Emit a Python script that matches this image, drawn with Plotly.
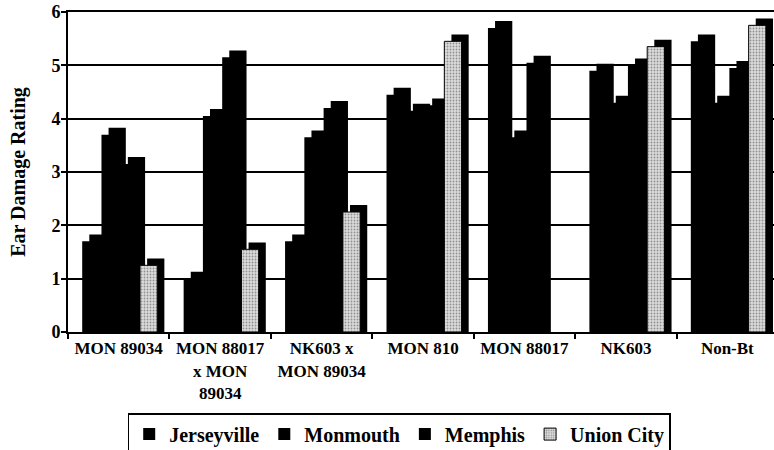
import plotly.graph_objects as go

categories = ["MON 89034", "MON 88017<br>x MON<br>89034", "NK603 x<br>MON 89034",
              "MON 810", "MON 88017", "NK603", "Non-Bt"]
jerseyville = [1.7, 1.0, 1.7, 4.45, 5.7, 4.9, 5.45]
monmouth = [3.7, 4.05, 3.65, 4.15, 3.65, 4.3, 4.3]
memphis = [3.15, 5.15, 4.2, 4.25, 5.05, 5.0, 4.95]
union_city = [1.25, 1.55, 2.25, 5.45, None, 5.35, 5.75]

series = [("Jerseyville", jerseyville), ("Monmouth", monmouth),
          ("Memphis", memphis), ("Union City", union_city)]

FONT = "Liberation Serif, Times New Roman, serif"
bar_w = 0.17
offsets = [-0.36, -0.17, 0.02, 0.21]
dx, dy = 0.07, 0.13

fig = go.Figure()
# depth (3-D side) shading, drawn behind the front faces
for (name, vals), off in zip(series, offsets):
    fig.add_trace(go.Bar(
        x=categories, y=[None if v is None else v + dy for v in vals],
        offset=off + dx, width=bar_w, marker=dict(color="black", line=dict(width=0)),
        showlegend=False, hoverinfo="skip"))
# front faces
for (name, vals), off in zip(series, offsets):
    if name == "Union City":
        marker = dict(color="#dcdcdc", line=dict(width=1, color="black"),
                      pattern=dict(shape=".", fgcolor="#444", size=3, solidity=0.3))
    else:
        marker = dict(color="black", line=dict(width=0))
    fig.add_trace(go.Bar(x=categories, y=vals, name=name, offset=off, width=bar_w,
                         marker=marker))

fig.update_layout(
    width=774, height=450,
    barmode="overlay",
    margin=dict(l=68, r=0, t=12, b=118),
    paper_bgcolor="white", plot_bgcolor="white",
    font=dict(family=FONT, color="black"),
    showlegend=True,
    legend=dict(orientation="h", xref="container", yref="container",
                x=0.165, xanchor="left", y=0.082, yanchor="top",
                font=dict(family=FONT, size=20, color="black", weight="bold"),
                bordercolor="black", borderwidth=1.5, bgcolor="white",
                itemwidth=30, tracegroupgap=0),
    xaxis=dict(range=[-0.5, 6.46], showgrid=False, showline=True, linecolor="black",
               linewidth=2, mirror=True, ticks="outside", tickson="boundaries",
               ticklen=5, tickcolor="black", tickwidth=1.5, automargin=False,
               tickfont=dict(family=FONT, size=17, color="black", weight="bold")),
    yaxis=dict(range=[0, 6], dtick=1, showgrid=True, gridcolor="black", gridwidth=1.5,
               showline=True, linecolor="black", linewidth=2, ticks="outside",
               ticklen=5, tickcolor="black", tickwidth=1.5, zeroline=False,
               automargin=False, ticklabelstandoff=-3,
               tickfont=dict(family=FONT, size=18, color="black", weight="bold"),
               title=dict(text="Ear Damage Rating", standoff=20,
                          font=dict(family=FONT, size=20, color="black", weight="bold"))),
)

fig.write_html("out.html", config={"displayModeBar": False},
               post_script="document.body.style.margin='0';document.body.style.overflow='hidden';")
